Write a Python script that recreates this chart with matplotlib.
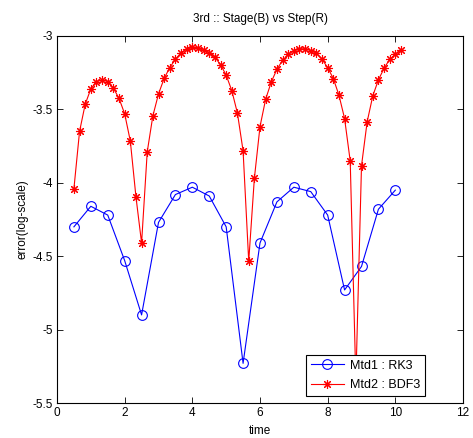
"""
Error (log-scale) comparison of RK3 and BDF3 over time.
"""

import numpy as np
import matplotlib
matplotlib.use('Agg')
import matplotlib.pyplot as plt

plt.rcParams['font.family'] = ['Liberation Sans', 'DejaVu Sans']

# Mtd1 : RK3, sampled every 0.5
t_rk3 = [0.5, 1.0, 1.5, 2.0, 2.5, 3.0, 3.5, 4.0, 4.5, 5.0,
         5.5, 6.0, 6.5, 7.0, 7.5, 8.0, 8.5, 9.0, 9.5, 10.0]
err_rk3 = [-4.30, -4.16, -4.22, -4.53, -4.90, -4.27, -4.08, -4.03, -4.09, -4.30,
           -5.23, -4.41, -4.13, -4.03, -4.06, -4.22, -4.73, -4.57, -4.18, -4.05]

# Mtd2 : BDF3, sampled every 1/6 starting at 0.5
t_bdf3 = [0.5 + k / 6 for k in range(59)]
err_bdf3 = [-4.04, -3.65, -3.465, -3.36, -3.31, -3.30, -3.31, -3.355, -3.425, -3.53,
            -3.715, -4.095, -4.41, -3.79, -3.544, -3.395, -3.289, -3.215, -3.159, -3.113,
            -3.09, -3.078, -3.084, -3.097, -3.113, -3.145, -3.195, -3.267, -3.372, -3.526,
            -3.782, -4.535, -3.97, -3.617, -3.431, -3.313, -3.227, -3.166, -3.125, -3.10,
            -3.086, -3.088, -3.10, -3.116, -3.159, -3.215, -3.29, -3.403, -3.562, -3.852,
            -5.35, -3.884, -3.585, -3.408, -3.299, -3.22, -3.159, -3.125, -3.097]

fig = plt.figure(figsize=(4.73, 4.38), dpi=100)
ax = fig.add_axes([57 / 473, 1 - 403 / 438, 406 / 473, 367 / 438])

ax.plot(t_rk3, err_rk3, color='#0000ff', linewidth=0.8, marker='o',
        markersize=7, markerfacecolor='none', markeredgewidth=0.8,
        label='Mtd1 : RK3')
ax.plot(t_bdf3, err_bdf3, color='#ff0000', linewidth=0.8, marker=(8, 2, 0),
        markersize=6.5, markeredgewidth=0.8, label='Mtd2 : BDF3')

ax.set_xlim(0, 12)
ax.set_ylim(-5.5, -3)
ax.set_xticks(np.arange(0, 13, 2))
ax.set_yticks(np.arange(-5.5, -2.9, 0.5))
ax.set_yticklabels(['-5.5', '-5', '-4.5', '-4', '-3.5', '-3'])
ax.tick_params(direction='in', top=True, right=True, labelsize=8.5,
               length=4, width=0.6, pad=3)
for spine in ax.spines.values():
    spine.set_linewidth(0.8)

ax.set_title('3rd :: Stage(B) vs Step(R)', fontsize=8.5, pad=10)
ax.set_xlabel('time', fontsize=8.5, labelpad=4)
ax.set_ylabel('error(log-scale)', fontsize=8.5, labelpad=3)

leg = ax.legend(loc='lower right', bbox_to_anchor=(0.907, 0.019), fontsize=9,
                frameon=True, fancybox=False, borderaxespad=0, handlelength=2.6,
                handletextpad=0.5, borderpad=0.4, labelspacing=0.6)
leg.get_frame().set_edgecolor('black')
leg.get_frame().set_linewidth(0.8)
leg.get_frame().set_alpha(1)

fig.savefig('out.png', dpi=100)
